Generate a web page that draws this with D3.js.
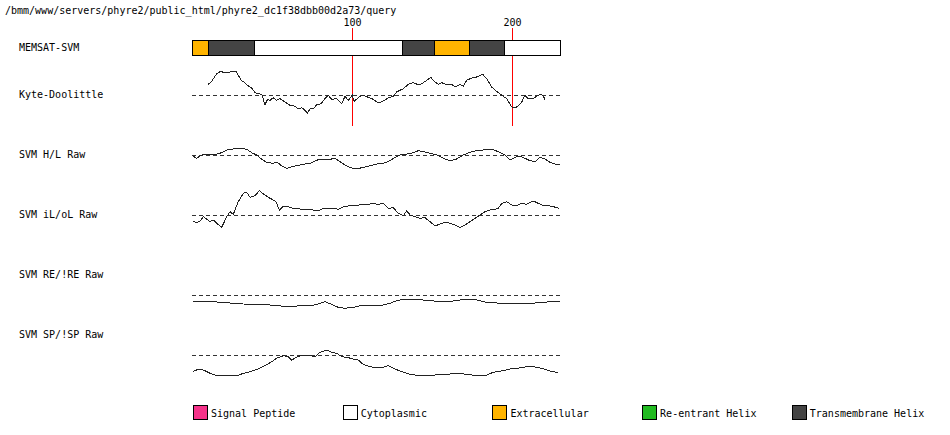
<!DOCTYPE html>
<html><head><meta charset="utf-8">
<script src="https://cdn.jsdelivr.net/npm/d3@7"></script>
<style>
html,body{margin:0;padding:0;background:#fff;}
svg text{font-family:"DejaVu Sans Mono",monospace;font-size:10px;fill:#000;}
</style></head><body>
<svg id="chart" width="950" height="435"></svg>
<script>
// ---------- data ----------
const titleText = "/bmm/www/servers/phyre2/public_html/phyre2_dc1f38dbb00d2a73/query";
const seqLength = 230;
const markerResidues = [100, 200];

const memsatStart = [0, 10, 39, 131, 151, 173, 195];
const memsatEnd   = [10, 39, 131, 151, 173, 195, 230];
const memsatType  = ["Extracellular","Transmembrane Helix","Cytoplasmic","Transmembrane Helix","Extracellular","Transmembrane Helix","Cytoplasmic"];

const trackNames = ["Kyte-Doolittle","SVM H/L Raw","SVM iL/oL Raw","SVM RE/!RE Raw","SVM SP/!SP Raw"];

const kdPos = [10.2,12.3,15.4,17.9,20.6,23.8,27.3,28.9,31.1,33.1,35.2,37.3,39.4,41.4,43.6,45.6,47.1,48.8,50.8,52.9,55,58.1,61.3,64.4,66.4,68.6,70.6,72.1,73.8,76.3,77.9,80.6,83.1,85.2,87.3,90.4,93.6,95.6,97.7,100.2,101.3,103.9,106.1,108.1,111.3,113.3,116.4,119.6,122.7,125.8,127.9,130,132.1,135.2,138.3,141.4,143.6,146.7,149.2,151.9,153.9,156.1,159.2,162.3,164.4,167.5,169.6,171.7,174.8,177.9,181.7,184.2,187.3,190.4,193.6,196.7,199.8,201.9,203.9,206.1,208.1,210.2,213.3,215.4,217.5,219.2,220.6];
const kdVal = [1.07,1.37,2.13,2.37,2.2,2.3,2.4,1.97,1.4,1.23,0.9,0.7,0.23,0.13,0.07,-0.97,-0.47,-0.53,-0.27,-0.53,-0.37,-0.7,-1.03,-1.13,-1.37,-1.27,-1.53,-1.8,-1.37,-1.3,-0.97,-0.87,-0.37,-0.03,-0.43,-0.37,-0.87,-0.13,-0.53,-0.03,-0.63,-0.27,-0.03,-0.1,-0.3,-0.43,-0.8,-0.6,-0.3,-0.13,0.3,0.47,0.63,1.07,1.23,1.03,1.13,1.47,1.77,1.3,1.07,1.23,1.03,1.07,0.8,1.03,0.87,1.47,1.7,1.8,2.07,1.63,0.8,0.37,-0.03,-0.37,-1.2,-1.3,-1.1,-0.7,-0.03,-0.37,-0.37,-0.13,0.07,-0.03,-0.43];

const hlPos = [0.4,2.9,6.1,9.2,13.3,17.5,21.7,25.8,30,34.2,37.3,40.4,43.6,46.7,50.8,53.3,56.1,59.2,62.3,65.4,69.6,73.8,76.9,80,83.1,86.3,89.4,92.5,95.6,98.8,102.9,107.1,111.3,115.4,119.6,123.8,126.9,130,134.2,138.3,141.4,144.6,148.8,152.9,157.1,161.3,165.4,169.6,173.8,177.9,182.1,187.3,191.4,195.6,198.8,201.9,205,208.1,211.3,214.4,217.5,220.6,223.8,226.9,230];
const hlVal = [-0.1,-0.33,0,0.1,0,0.17,0.5,0.6,0.67,0.57,0.23,0,-0.43,-0.73,-0.83,-0.73,-1.1,-1.33,-1.17,-1.07,-0.93,-0.83,-0.6,-0.4,-0.5,-0.43,-0.33,-0.67,-1.0,-1.27,-1.4,-1.23,-1.07,-0.9,-0.83,-0.57,-0.23,0,0.1,0.23,0.43,0.33,0.17,0,-0.33,-0.57,-0.4,0,0.27,0.43,0.5,0.6,0.33,0,-0.5,-0.23,-0.1,-0.33,-0.57,-0.67,-0.23,-0.4,-0.73,-0.9,-0.9];

const ilPos = [0.4,2.9,5,7.1,9.2,11.3,13.3,15.4,18.6,21.7,23.8,25.8,28.9,32.1,34.2,36.3,39.4,42.1,44.6,47.7,50.8,52.5,54.6,56.7,60.2,63.3,67.5,71.7,75.8,80,82.1,85.2,88.3,91.4,94.6,98.8,102.9,106.1,109.2,112.3,116.4,119.6,122.7,125.8,128.9,132.1,134.2,136.3,139.4,142.5,145.6,148.8,151.9,155,158.1,161.3,164.4,167.5,170.6,173.8,176.9,180,183.1,186.3,189.4,191.4,193.6,196.7,199.8,202.9,206.1,209.2,213.3,216.4,219.6,222.7,225.8,229.6];
const ilVal = [-0.6,-0.77,-0.6,-0.17,-0.43,-0.67,-0.5,-0.83,-1.23,-0.17,0.33,0.07,1.33,2.17,2.27,1.77,1.93,2.43,2.1,1.77,1.5,1.33,0.5,0.83,0.83,0.67,0.6,0.57,0.5,0.5,0.67,0.6,0.67,0.57,0.83,0.93,0.93,1.1,1.0,1.17,1.07,1.17,0.67,0.73,0.17,-0.07,0.43,0,-0.17,-0.33,-0.27,-0.67,-1.1,-0.9,-0.73,-0.83,-1.0,-1.27,-1.0,-0.67,-0.33,0,0.33,0.5,0.57,0.67,1.17,1.33,1.0,0.93,1.17,1.07,1.4,1.17,0.93,0.93,0.83,0.67];

const rePos = [0.4,11.3,19.6,25.8,32.1,40.4,48.8,52.9,57.1,61.3,65.4,70.6,73.8,78.9,83.1,87.3,91.4,95.6,100.8,107.1,113.3,119.6,123.8,127.9,132.1,140.4,148.8,157.1,163.3,167.5,173.8,177.9,182.1,186.3,194.6,202.9,211.3,217.5,223.8,230];
const reVal = [-0.67,-0.67,-0.73,-0.83,-0.9,-0.93,-1.0,-1.0,-1.17,-1.1,-1.1,-1.0,-1.1,-0.9,-0.67,-0.93,-1.23,-1.33,-1.23,-1.0,-1.0,-1.0,-0.83,-0.57,-0.43,-0.43,-0.57,-0.67,-0.6,-0.5,-0.43,-0.5,-0.67,-0.77,-0.83,-0.83,-0.83,-0.77,-0.67,-0.67];

const spPos = [0.4,3.9,7.1,11.3,15.4,19.6,23.8,27.9,32.1,36.3,41.4,45.6,49.8,52.9,57.1,60.2,62.3,65.4,68.6,72.7,76.9,80,84.2,86.3,90.4,93.6,96.7,100.8,103.9,106.1,109.2,113.3,118.6,122.7,125.8,130,136.3,142.5,148.8,155,161.3,165.4,171.7,177.9,184.2,188.3,194.6,198.8,202.9,207.1,211.3,215.4,218.6,221.7,224.8,228.9];
const spVal = [-1.67,-1.43,-1.5,-1.83,-2.07,-2.1,-2.07,-2.1,-1.83,-1.67,-1.4,-1.07,-0.67,-0.33,-0.07,-0.17,-0.5,-0.23,0,0,-0.17,0.27,0.5,0.33,0.17,-0.17,-0.23,-0.4,-0.5,-0.83,-1.07,-1.23,-1.27,-1.07,-1.33,-1.6,-1.93,-2.07,-2.07,-1.93,-1.9,-1.83,-1.93,-2.07,-2.0,-1.73,-1.57,-1.4,-1.33,-1.23,-1.1,-1.23,-1.33,-1.5,-1.67,-1.73];

const legendLabels = ["Signal Peptide","Cytoplasmic","Extracellular","Re-entrant Helix","Transmembrane Helix"];
const legendColors = ["#f5338a","#ffffff","#ffb400","#22bb22","#444444"];

// ---------- layout ----------
const svg = d3.select("#chart");
const x = d3.scaleLinear().domain([0, seqLength]).range([192, 560]);
const colorOf = d3.scaleOrdinal().domain(legendLabels).range(legendColors);

svg.append("text").attr("x", 5).attr("y", 14).text(titleText);

// red residue markers
markerResidues.forEach(r => {
  const xp = Math.round(x(r)) + 0.5;
  svg.append("line").attr("x1", xp).attr("x2", xp).attr("y1", 28).attr("y2", 126)
     .attr("stroke", "#ff0000").attr("stroke-width", 1).attr("shape-rendering","crispEdges");
  svg.append("text").attr("x", xp).attr("y", 26).attr("text-anchor","middle").text(String(r));
});

// MEMSAT bar
svg.append("text").attr("x", 19).attr("y", 51).text("MEMSAT-SVM");
const segs = memsatStart.map((s,i)=>({s, e: memsatEnd[i], t: memsatType[i]}));
svg.append("g").selectAll("rect").data(segs).join("rect")
  .attr("x", d => Math.round(x(d.s)) + 0.5)
  .attr("width", d => Math.round(x(d.e)) - Math.round(x(d.s)))
  .attr("y", 40.5).attr("height", 15)
  .attr("fill", d => colorOf(d.t)).attr("stroke", "#000").attr("shape-rendering","crispEdges");

// tracks
const tracks = [
  {pos: kdPos, val: kdVal, base: 95},
  {pos: hlPos, val: hlVal, base: 155},
  {pos: ilPos, val: ilVal, base: 215},
  {pos: rePos, val: reVal, base: 295},
  {pos: spPos, val: spVal, base: 355}
];
const labelY = [98, 158, 218, 278, 338];

tracks.forEach((tr, i) => {
  svg.append("text").attr("x", 19).attr("y", labelY[i]).text(trackNames[i]);
  const y = d3.scaleLinear().domain([-3, 3]).range([tr.base + 30, tr.base - 30]);
  svg.append("line").attr("x1", x(0)).attr("x2", x(seqLength))
    .attr("y1", y(0) + 0.5).attr("y2", y(0) + 0.5)
    .attr("stroke", "#333").attr("stroke-dasharray", "4,3").attr("shape-rendering","crispEdges");
  const pts = tr.pos.map((p, j) => [p, tr.val[j]]);
  const line = d3.line().x(d => x(d[0])).y(d => y(d[1]));
  svg.append("path").attr("d", line(pts)).attr("fill","none")
    .attr("stroke", "#222").attr("stroke-width", 1).attr("shape-rendering","crispEdges");
});

// legend
const lg = svg.append("g").selectAll("g").data(legendLabels).join("g")
  .attr("transform", (d,i) => `translate(${193 + i*149.7},0)`);
lg.append("rect").attr("x", 0.5).attr("y", 405.5).attr("width", 14).attr("height", 14)
  .attr("fill", (d,i) => legendColors[i]).attr("stroke","#000").attr("shape-rendering","crispEdges");
lg.append("text").attr("x", 18).attr("y", 417).text(d => d);
</script>
</body></html>
